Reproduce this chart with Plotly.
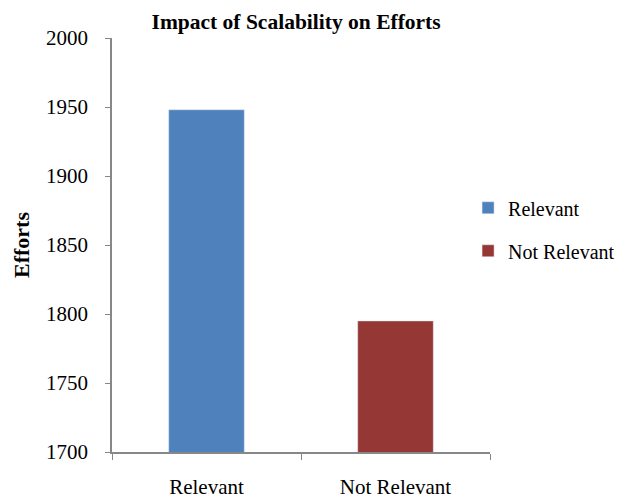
import plotly.graph_objects as go

categories = ["Relevant", "Not Relevant"]
values = [1948, 1795]
colors = ["#4F81BD", "#953735"]
y_ticks = [1700, 1750, 1800, 1850, 1900, 1950, 2000]

fig = go.Figure()
for i, (c, v, col) in enumerate(zip(categories, values, colors)):
    fig.add_trace(go.Bar(x=[c], y=[v], name=c, marker_color=col, width=0.4,
                         legendgroup=f"g{i}"))

font = "Liberation Serif, Times New Roman, serif"
fig.update_layout(
    width=617, height=499,
    margin=dict(l=112, r=127, t=38, b=47, autoexpand=False),
    paper_bgcolor="white", plot_bgcolor="white",
    barmode="overlay",
    font=dict(family=font, size=21, color="black"),
    title=dict(text="<b>Impact of Scalability on Efforts</b>", xref="paper", x=0.487,
               xanchor="center", y=1 - 21 / 499, yanchor="middle", automargin=False,
               font=dict(family=font, size=21.5, color="black")),
    showlegend=True,
    legend=dict(x=0.942, xanchor="left", y=0.538, yanchor="middle",
                font=dict(family=font, size=20), tracegroupgap=14,
                itemwidth=30, bgcolor="rgba(0,0,0,0)"),
    xaxis=dict(categoryorder="array", categoryarray=categories,
               showline=True, linecolor="#878787", linewidth=1.5,
               ticks="outside", tickson="boundaries", ticklen=6, tickcolor="#878787",
               ticklabelstandoff=15, showgrid=False, automargin=False,
               tickfont=dict(family=font, size=21)),
    yaxis=dict(range=[1700, 2000], tickvals=y_ticks,
               showline=True, linecolor="#878787", linewidth=1.5,
               ticks="outside", ticklen=5, tickcolor="#878787",
               ticklabelstandoff=13, showgrid=False, zeroline=False, automargin=False,
               title=dict(text="<b>Efforts</b>", font=dict(family=font, size=22), standoff=10),
               tickfont=dict(family=font, size=21)),
)
fig.write_html(
    "out.html",
    config={"displayModeBar": False},
    post_script="document.body.style.margin='0';document.body.style.overflow='hidden';",
)
